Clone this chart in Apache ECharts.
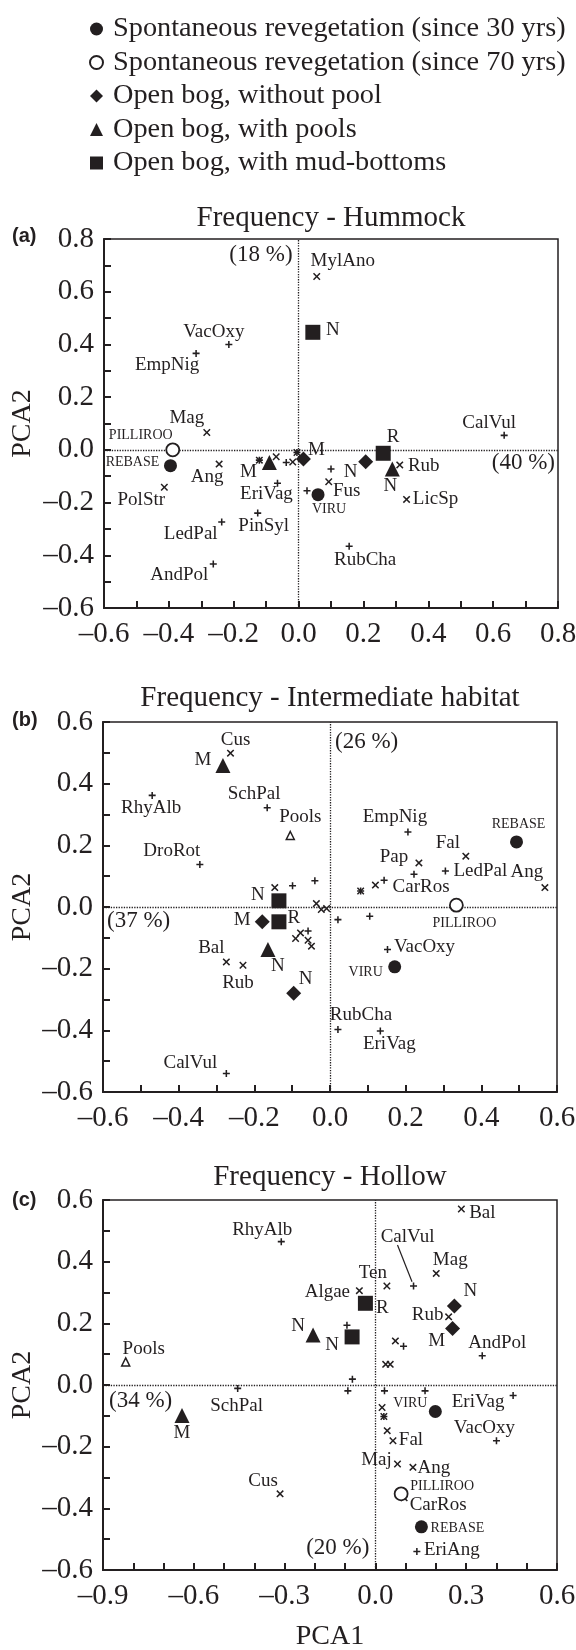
<!DOCTYPE html>
<html><head><meta charset="utf-8">
<script src="https://cdn.jsdelivr.net/npm/echarts@6/dist/echarts.min.js"></script>
<style>html,body{margin:0;padding:0;background:#fff}#c{width:576px;height:1650px}</style>
</head><body><div id="c"></div>
<script>
// ---------- categories / texts ----------
const groupNames = ['Spontaneous revegetation (since 30 yrs)','Spontaneous revegetation (since 70 yrs)','Open bog, without pool','Open bog, with pools','Open bog, with mud-bottoms'];
const panelTitles = ['Frequency - Hummock','Frequency - Intermediate habitat','Frequency - Hollow'];
const panelLetters = ['(a)','(b)','(c)'];

// ---------- panel (a) Hummock : [PCA1, PCA2, name] ----------
const aSpont30 = [[-0.395,-0.060,'REBASE'],[0.060,-0.170,'VIRU']];
const aSpont70 = [[-0.388,0.000,'PILLIROO']];
const aNoPool  = [[0.015,-0.035,'M'],[0.207,-0.045,'N']];
const aPools   = [[-0.090,-0.048,'M'],[0.289,-0.073,'N']];
const aMud     = [[0.044,0.446,'N'],[0.261,-0.013,'R']];
const aPlus    = [[-0.215,0.400,'VacOxy'],[-0.316,0.366,'EmpNig'],[-0.237,-0.274,'LedPal'],[-0.263,-0.433,'AndPol'],[-0.065,-0.127,'EriVag'],[-0.126,-0.240,'PinSyl'],[-0.038,-0.048,''],[0.100,-0.073,''],[0.026,-0.155,''],[0.156,-0.366,'RubCha'],[0.634,0.055,'CalVul'],[-0.121,-0.039,''],[-0.005,-0.010,'']];
const aCross   = [[0.056,0.658,'MylAno'],[-0.283,0.066,'Mag'],[-0.414,-0.142,'PolStr'],[-0.245,-0.054,'Ang'],[-0.069,-0.026,''],[-0.018,-0.046,''],[0.093,-0.121,'Fus'],[0.312,-0.057,'Rub'],[0.333,-0.188,'LicSp'],[-0.121,-0.039,''],[-0.005,-0.010,'']];
const aPoolVar = [];
const aShare   = [[0.0,0.74,'(18 %)'],[0.8,-0.05,'(40 %)']];

// ---------- panel (b) Intermediate habitat ----------
const bSpont30 = [[0.493,0.211,'REBASE'],[0.171,-0.194,'VIRU']];
const bSpont70 = [[0.334,0.006,'PILLIROO']];
const bNoPool  = [[-0.179,-0.048,'M'],[-0.096,-0.280,'N']];
const bPools   = [[-0.283,0.459,'M'],[-0.164,-0.138,'N']];
const bMud     = [[-0.135,0.020,'N'],[-0.135,-0.048,'R']];
const bPlus    = [[-0.470,0.362,'RhyAlb'],[-0.166,0.322,'SchPal'],[-0.344,0.138,'DroRot'],[0.206,0.243,'EmpNig'],[0.222,0.106,''],[0.305,0.117,'LedPal'],[-0.099,0.069,''],[-0.040,0.085,''],[0.143,0.087,'CarRos'],[0.021,-0.041,''],[0.105,-0.030,''],[-0.058,-0.078,''],[0.152,-0.138,'VacOxy'],[0.021,-0.397,'RubCha'],[0.133,-0.402,'EriVag'],[-0.274,-0.540,'CalVul'],[0.081,0.052,'']];
const bCross   = [[-0.263,0.499,'Cus'],[0.359,0.165,'Fal'],[0.235,0.143,'Pap'],[0.568,0.063,'Ang'],[0.120,0.071,''],[-0.146,0.063,''],[-0.036,0.011,''],[-0.023,-0.008,''],[-0.009,-0.005,''],[-0.091,-0.102,''],[-0.078,-0.084,''],[-0.058,-0.108,''],[-0.049,-0.127,''],[-0.274,-0.178,'Bal'],[-0.230,-0.189,'Rub'],[0.081,0.052,'']];
const bPoolVar = [[-0.105,0.232,'Pools']];
const bShare   = [[0.0,0.535,'(26 %)'],[-0.6,-0.046,'(37 %)']];

// ---------- panel (c) Hollow ----------
const cSpont30 = [[0.198,-0.086,'VIRU'],[0.152,-0.460,'REBASE']];
const cSpont70 = [[0.085,-0.353,'PILLIROO']];
const cNoPool  = [[0.261,0.256,'N'],[0.255,0.183,'M']];
const cPools   = [[-0.206,0.162,'N'],[-0.639,-0.099,'M']];
const cMud     = [[-0.033,0.265,'R'],[-0.077,0.156,'N']];
const cPlus    = [[-0.311,0.465,'RhyAlb'],[0.126,0.321,'CalVul'],[0.353,0.095,'AndPol'],[-0.094,0.194,''],[0.093,0.126,''],[-0.455,-0.011,'SchPal'],[-0.076,0.019,''],[-0.091,-0.019,''],[0.030,-0.019,''],[0.164,-0.019,''],[0.455,-0.034,'EriVag'],[0.400,-0.181,'VacOxy'],[0.137,-0.540,'EriAng'],[0.028,-0.102,'']];
const cCross   = [[0.284,0.571,'Bal'],[0.201,0.362,'Mag'],[0.038,0.321,'Ten'],[-0.053,0.306,'Algae'],[0.242,0.221,'Rub'],[0.066,0.143,''],[0.034,0.067,''],[0.049,0.067,''],[0.022,-0.073,''],[0.039,-0.148,''],[0.058,-0.181,'Fal'],[0.073,-0.256,'Maj'],[0.124,-0.267,'Ang'],[-0.315,-0.353,'Cus'],[0.095,-0.366,'CarRos'],[0.028,-0.102,'']];
const cPoolVar = [[-0.825,0.075,'Pools']];
const cShare   = [[-0.9,-0.052,'(34 %)'],[0.0,-0.529,'(20 %)']];
const cLeader  = [[0.073,0.454],[0.121,0.335]];

// ---------- axis ranges: [min, max, label every n ticks of 0.1] ----------
const xRanges = [[-0.6,0.8,2],[-0.6,0.6,2],[-0.9,0.6,3]];
const yRanges = [[-0.6,0.8,2],[-0.6,0.6,2],[-0.6,0.6,2]];

// ---------- label placement (pixel offsets from mark centre) ----------
const labelOffsets = [
 {'c30|REBASE':[-38,-3],'c30|VIRU':[11,15],'c70|PILLIROO':[-32,-15],'dia|M':[13,-9],'dia|N':[-15,10],'tri|M':[-21,10],'tri|N':[-2,17],'sq|N':[20,-2],'sq|R':[10,-16],
  'plus|VacOxy':[-15,-12],'plus|EmpNig':[-29,12],'plus|LedPal':[-31,12],'plus|AndPol':[-34,11],'plus|EriVag':[-11,11],'plus|PinSyl':[6,13],'plus|RubCha':[16,14],'plus|CalVul':[-15,-12],
  'x|MylAno':[26,-15],'x|Mag':[-20,-14],'x|PolStr':[-23,13],'x|Ang':[-12,13],'x|Fus':[18,9],'x|Rub':[24,1],'x|LicSp':[29,0]},
 {'c30|REBASE':[2,-18],'c30|VIRU':[-29,6],'c70|PILLIROO':[8,18],'dia|M':[-20,-2],'dia|N':[12,-14],'tri|M':[-20,-5],'tri|N':[10,16],'sq|N':[-21,-6],'sq|R':[15,-4],'pool|Pools':[10,-18],
  'plus|RhyAlb':[-1,13],'plus|SchPal':[-13,-14],'plus|DroRot':[-28,-13],'plus|EmpNig':[-13,-15],'plus|LedPal':[35,0],'plus|CarRos':[37,7],'plus|VacOxy':[37,-3],'plus|RubCha':[23,-14],'plus|EriVag':[9,13],'plus|CalVul':[-36,-10],
  'x|Cus':[5,-13],'x|Fal':[-18,-13],'x|Pap':[-25,-6],'x|Ang':[-18,-16],'x|Bal':[-15,-14],'x|Rub':[-5,18]},
 {'c30|VIRU':[-25,-8],'c30|REBASE':[36,1],'c70|PILLIROO':[41,-8],'dia|N':[16,-15],'dia|M':[-16,12],'tri|N':[-15,-9],'tri|M':[0,17],'sq|R':[17,5],'sq|N':[-20,8],'pool|Pools':[18,-13],
  'plus|RhyAlb':[-19,-12],'plus|CalVul':[-6,-49],'plus|AndPol':[15,-13],'plus|SchPal':[-1,18],'plus|EriVag':[-35,7],'plus|VacOxy':[-12,-13],'plus|EriAng':[35,-1],
  'x|Bal':[21,4],'x|Mag':[14,-13],'x|Ten':[-14,-13],'x|Algae':[-32,1],'x|Rub':[-21,-2],'x|Fal':[18,-1],'x|Maj':[-21,-4],'x|Ang':[21,1],'x|Cus':[-17,-13],'x|CarRos':[34,7]}
];
const shareAlign = [
 {'(18 %)':['right',-6],'(40 %)':['right',-3]},
 {'(26 %)':['left',5],'(37 %)':['left',4]},
 {'(34 %)':['left',6],'(20 %)':['right',-6]}
];

// ---------- build ----------
const SERIF = '"Liberation Serif","Times New Roman",serif';
const INK = '#231f20';
const PLUS = 'path://M-0.22,-1H0.22V-0.22H1V0.22H0.22V1H-0.22V0.22H-1V-0.22H-0.22Z';
const CROSS = 'path://M-1,-0.72L-0.72,-1L0,-0.28L0.72,-1L1,-0.72L0.28,0L1,0.72L0.72,1L0,0.28L-0.72,1L-1,0.72L-0.28,0Z';
const styles = {
  c30:{name:groupNames[0],symbol:'circle',size:13,fill:INK,lw:0,font:14,z:5},
  c70:{name:groupNames[1],symbol:'circle',size:13,fill:'#fff',lw:1.8,font:14,z:5},
  dia:{name:groupNames[2],symbol:'diamond',size:15,fill:INK,lw:0,font:19,z:5},
  tri:{name:groupNames[3],symbol:'triangle',size:15,fill:INK,lw:0,font:19,z:5},
  sq:{name:groupNames[4],symbol:'rect',size:15,fill:INK,lw:0,font:19,z:5},
  plus:{name:'Species +',symbol:PLUS,size:7,fill:INK,lw:0,font:19,z:4},
  x:{name:'Species x',symbol:CROSS,size:7.5,fill:INK,lw:0,font:19,z:4},
  pool:{name:'Pools',symbol:'triangle',size:8,fill:'#fff',lw:1.5,font:19,z:4}
};
const panels = [
 {c30:aSpont30,c70:aSpont70,dia:aNoPool,tri:aPools,sq:aMud,plus:aPlus,x:aCross,pool:aPoolVar,share:aShare},
 {c30:bSpont30,c70:bSpont70,dia:bNoPool,tri:bPools,sq:bMud,plus:bPlus,x:bCross,pool:bPoolVar,share:bShare},
 {c30:cSpont30,c70:cSpont70,dia:cNoPool,tri:cPools,sq:cMud,plus:cPlus,x:cCross,pool:cPoolVar,share:cShare}
];
const grids = [
 {left:104,top:239,width:454,height:369},
 {left:103,top:722,width:454,height:370},
 {left:103,top:1200,width:454,height:370}
];
function fmt(v){ if (Math.abs(v)<1e-9) return '0.0'; return (v<0?'\u2013':'')+Math.abs(v).toFixed(1); }
function axisCommon(range, isX){
  return {
    type:'value', min:range[0], max:range[1], interval:0.1,
    splitLine:{show:false},
    axisLine:{show:true,onZero:false,lineStyle:{color:INK,width:2}},
    axisTick:{show:true,inside:true,length:7,lineStyle:{color:INK,width:2}},
    axisLabel:{show:true,margin:isX?12:10,fontFamily:SERIF,fontSize:29,color:INK,
      formatter:function(v){ const k=Math.round(v*10); return (k%range[2]===0)?fmt(v):''; }}
  };
}
const series = [];
panels.forEach((P,pi)=>{
  ['plus','x','pool','c70','c30','dia','tri','sq'].forEach(t=>{
    const S = styles[t];
    if (!P[t].length) return;
    series.push({
      type:'scatter', name:S.name, xAxisIndex:pi, yAxisIndex:pi, z:S.z,
      symbol:S.symbol, symbolSize:S.size, symbolKeepAspect:true, silent:true, animation:false,
      emphasis:{disabled:true},
      itemStyle:{color:S.fill,borderColor:INK,borderWidth:S.lw,opacity:1},
      label:{show:true,position:'inside',formatter:'{b}',fontFamily:SERIF,fontSize:S.font,color:INK,align:'center',verticalAlign:'middle'},
      data:P[t].map(d=>{
        const off = labelOffsets[pi][t+'|'+d[2]];
        return {value:[d[0],d[1]],name:d[2],label:off?{show:true,offset:off}:{show:false}};
      })
    });
  });
  // variance labels + zero reference lines
  series.push({
    type:'scatter', name:'share'+pi, xAxisIndex:pi, yAxisIndex:pi, z:3, silent:true, animation:false,
    symbolSize:0.01, itemStyle:{color:INK,opacity:1}, emphasis:{disabled:true},
    label:{show:true,position:'inside',formatter:'{b}',fontFamily:SERIF,fontSize:23,color:INK,opacity:1,verticalAlign:'middle'},
    data:P.share.map(d=>{ const a=shareAlign[pi][d[2]]; return {value:[d[0],d[1]],name:d[2],label:{align:a[0],offset:[a[1],0]}}; }),
    markLine:{silent:true,animation:false,symbol:['none','none'],label:{show:false},
      lineStyle:{type:'dotted',color:INK,width:1.3},
      data:[{xAxis:0},{yAxis:0}]}
  });
});
series.push({type:'line',name:'leader',xAxisIndex:2,yAxisIndex:2,data:cLeader,symbol:'none',silent:true,animation:false,
  lineStyle:{color:INK,width:1.2},z:3});

const graphics = [];
const titleY = [218,698,1177];
const letterY = [236,720,1200];
grids.forEach((g,i)=>{
  graphics.push({type:'text',x:g.left+g.width/2,y:titleY[i],style:{text:panelTitles[i],font:'29px '+SERIF,fill:INK,textAlign:'center',textVerticalAlign:'middle'}});
  graphics.push({type:'text',x:12,y:letterY[i],style:{text:panelLetters[i],font:'bold 20px "Liberation Sans",Arial,sans-serif',fill:INK,textAlign:'left',textVerticalAlign:'middle'}});
  graphics.push({type:'text',x:23,y:g.top+g.height/2,rotation:Math.PI/2,style:{text:'PCA2',font:'28px '+SERIF,fill:INK,textAlign:'center',textVerticalAlign:'middle'}});
});
graphics.push({type:'text',x:grids[2].left+grids[2].width/2,y:1637,style:{text:'PCA1',font:'28px '+SERIF,fill:INK,textAlign:'center',textVerticalAlign:'middle'}});

const chart = echarts.init(document.getElementById('c'),null,{renderer:'canvas',width:576,height:1650});
chart.setOption({
  backgroundColor:'#fff',
  animation:false,
  grid:grids.map(g=>Object.assign({show:true,borderColor:INK,borderWidth:1.5,backgroundColor:'transparent',containLabel:false,outerBoundsMode:'none'},g)),
  xAxis:xRanges.map((r,i)=>Object.assign(axisCommon(r,true),{gridIndex:i,position:'bottom'})),
  yAxis:yRanges.map((r,i)=>Object.assign(axisCommon(r,false),{gridIndex:i,position:'left'})),
  legend:{data:groupNames,orient:'vertical',left:84,top:9,itemWidth:13,itemHeight:13,itemGap:3.5,selectedMode:false,symbolKeepAspect:true,
    textStyle:{fontFamily:SERIF,fontSize:28.3,color:INK,lineHeight:30,padding:[0,0,0,5]}},
  graphic:graphics,
  series:series
});
</script></body></html>
